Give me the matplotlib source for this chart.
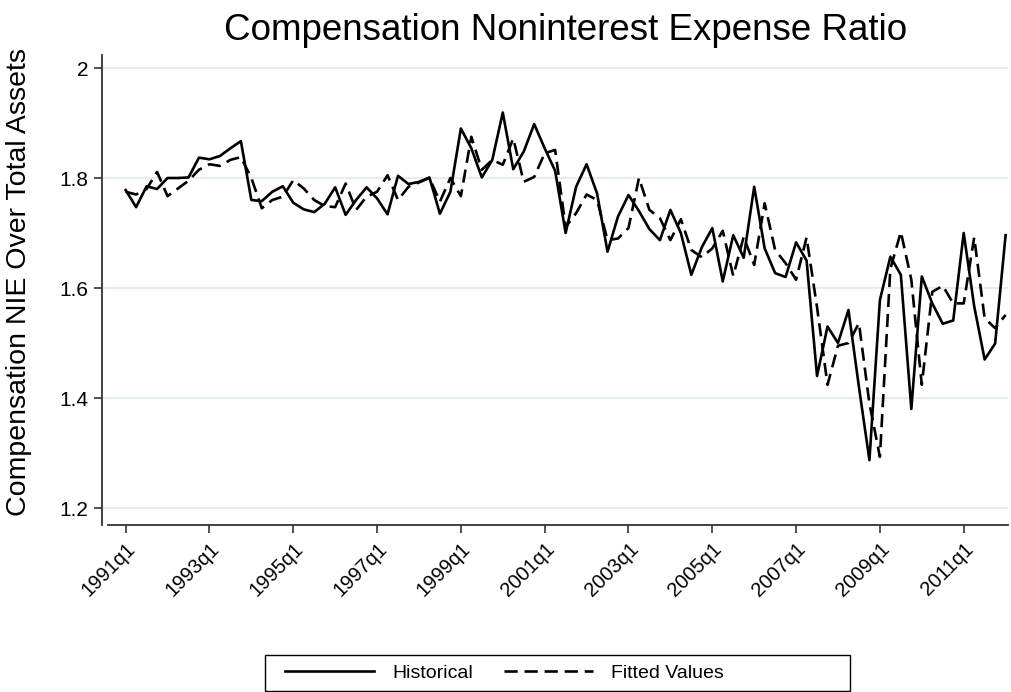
import numpy as np
import matplotlib
matplotlib.use("Agg")
import matplotlib.pyplot as plt
from matplotlib.patches import Rectangle

plt.rcParams['font.family'] = ['Liberation Sans', 'DejaVu Sans']

# quarters 1991q1 .. 2012q1
quarters = [f"{y}q{q}" for y in range(1991, 2013) for q in range(1, 5)][:85]

historical = [
    1.778, 1.747, 1.785, 1.780, 1.800, 1.800, 1.801, 1.837, 1.834, 1.840,
    1.854, 1.867, 1.760, 1.758, 1.775, 1.785, 1.755, 1.743, 1.738, 1.753,
    1.783, 1.733, 1.760, 1.783, 1.763, 1.734, 1.804, 1.789, 1.793, 1.801,
    1.735, 1.775, 1.890, 1.854, 1.801, 1.833, 1.919, 1.816, 1.848, 1.898,
    1.854, 1.813, 1.700, 1.784, 1.825, 1.772, 1.666, 1.730, 1.769, 1.740,
    1.707, 1.687, 1.742, 1.700, 1.624, 1.674, 1.709, 1.612, 1.696, 1.655,
    1.784, 1.672, 1.627, 1.620, 1.683, 1.650, 1.440, 1.530, 1.500, 1.560,
    1.420, 1.287, 1.578, 1.657, 1.624, 1.380, 1.621, 1.572, 1.535, 1.541,
    1.700, 1.567, 1.470, 1.499, 1.696,
]

fitted = [
    1.775, 1.770, 1.780, 1.811, 1.767, 1.781, 1.795, 1.815, 1.825, 1.822,
    1.833, 1.838, 1.800, 1.745, 1.760, 1.766, 1.796, 1.781, 1.760, 1.749,
    1.747, 1.790, 1.742, 1.766, 1.775, 1.805, 1.760, 1.784, 1.792, 1.800,
    1.757, 1.800, 1.767, 1.875, 1.815, 1.833, 1.824, 1.872, 1.793, 1.802,
    1.845, 1.851, 1.711, 1.736, 1.770, 1.760, 1.687, 1.690, 1.709, 1.800,
    1.742, 1.727, 1.687, 1.725, 1.669, 1.656, 1.672, 1.704, 1.622, 1.693,
    1.642, 1.754, 1.669, 1.645, 1.615, 1.692, 1.565, 1.424, 1.495, 1.500,
    1.536, 1.390, 1.293, 1.635, 1.702, 1.615, 1.424, 1.593, 1.604, 1.572,
    1.572, 1.692, 1.545, 1.527, 1.551,
]

yticks = [1.2, 1.4, 1.6, 1.8, 2.0]
ytick_labels = ["1.2", "1.4", "1.6", "1.8", "2"]

W, H = 1011, 692
fig = plt.figure(figsize=(W / 100, H / 100), dpi=100)

# axes box in pixels: left 102, right 1008, top 55, bottom 525
ax = fig.add_axes([102 / W, 1 - 525 / H, (1008 - 102) / W, (525 - 55) / H])

x = np.arange(len(quarters))
ax.plot(x, historical, color='black', lw=1.9, label='Historical')
ax.plot(x, fitted, color='black', lw=1.9, dashes=(5, 2.6), label='Fitted Values')

# 10.5 px per quarter, 1991q1 at px 125.7
ax.set_xlim((102 - 125.7) / 10.5, (1008 - 125.7) / 10.5 + 0.2)
ax.set_ylim(2 - (525 - 68) / 550, 2 - (55 - 68) / 550)

xt = x[::8]
ax.set_xticks(xt)
ax.set_xticklabels([quarters[i] for i in xt], rotation=45, ha='right',
                   rotation_mode='anchor', fontsize=14.5)
ax.set_yticks(yticks)
ax.set_yticklabels(ytick_labels, fontsize=15)
ax.tick_params(axis='both', length=6, width=1.2, color='#333333', pad=4)

ax.grid(axis='y', color='#e4eef0', lw=1.5)
ax.set_axisbelow(True)
for s in ['top', 'right']:
    ax.spines[s].set_visible(False)
for s in ['left', 'bottom']:
    ax.spines[s].set_color('#333333')
    ax.spines[s].set_linewidth(1.3)
ax.spines['bottom'].set_bounds((108 - 125.7) / 10.5, ax.get_xlim()[1])

ax.set_ylabel('Compensation NIE Over Total Assets', fontsize=20.5)
ax.yaxis.set_label_coords((32 - 102) / 906, (525 - 282) / 470)

fig.text(566 / W, 1 - 30 / H, 'Compensation Noninterest Expense Ratio',
         fontsize=26.5, ha='center', va='center')

# legend keys + separate box (box is wider than its contents)
leg = fig.legend(loc='center left', bbox_to_anchor=(285 / W, 1 - 673 / H),
                 ncol=2, fontsize=14, handlelength=4.6, handletextpad=0.9,
                 columnspacing=1.6, frameon=False, borderpad=0,
                 borderaxespad=0)
fig.add_artist(Rectangle((265 / W, 1 - 691 / H), (850 - 265) / W, 36 / H,
                         transform=fig.transFigure, fill=False,
                         edgecolor='black', lw=1.0))

fig.savefig('out.png', dpi=100)
